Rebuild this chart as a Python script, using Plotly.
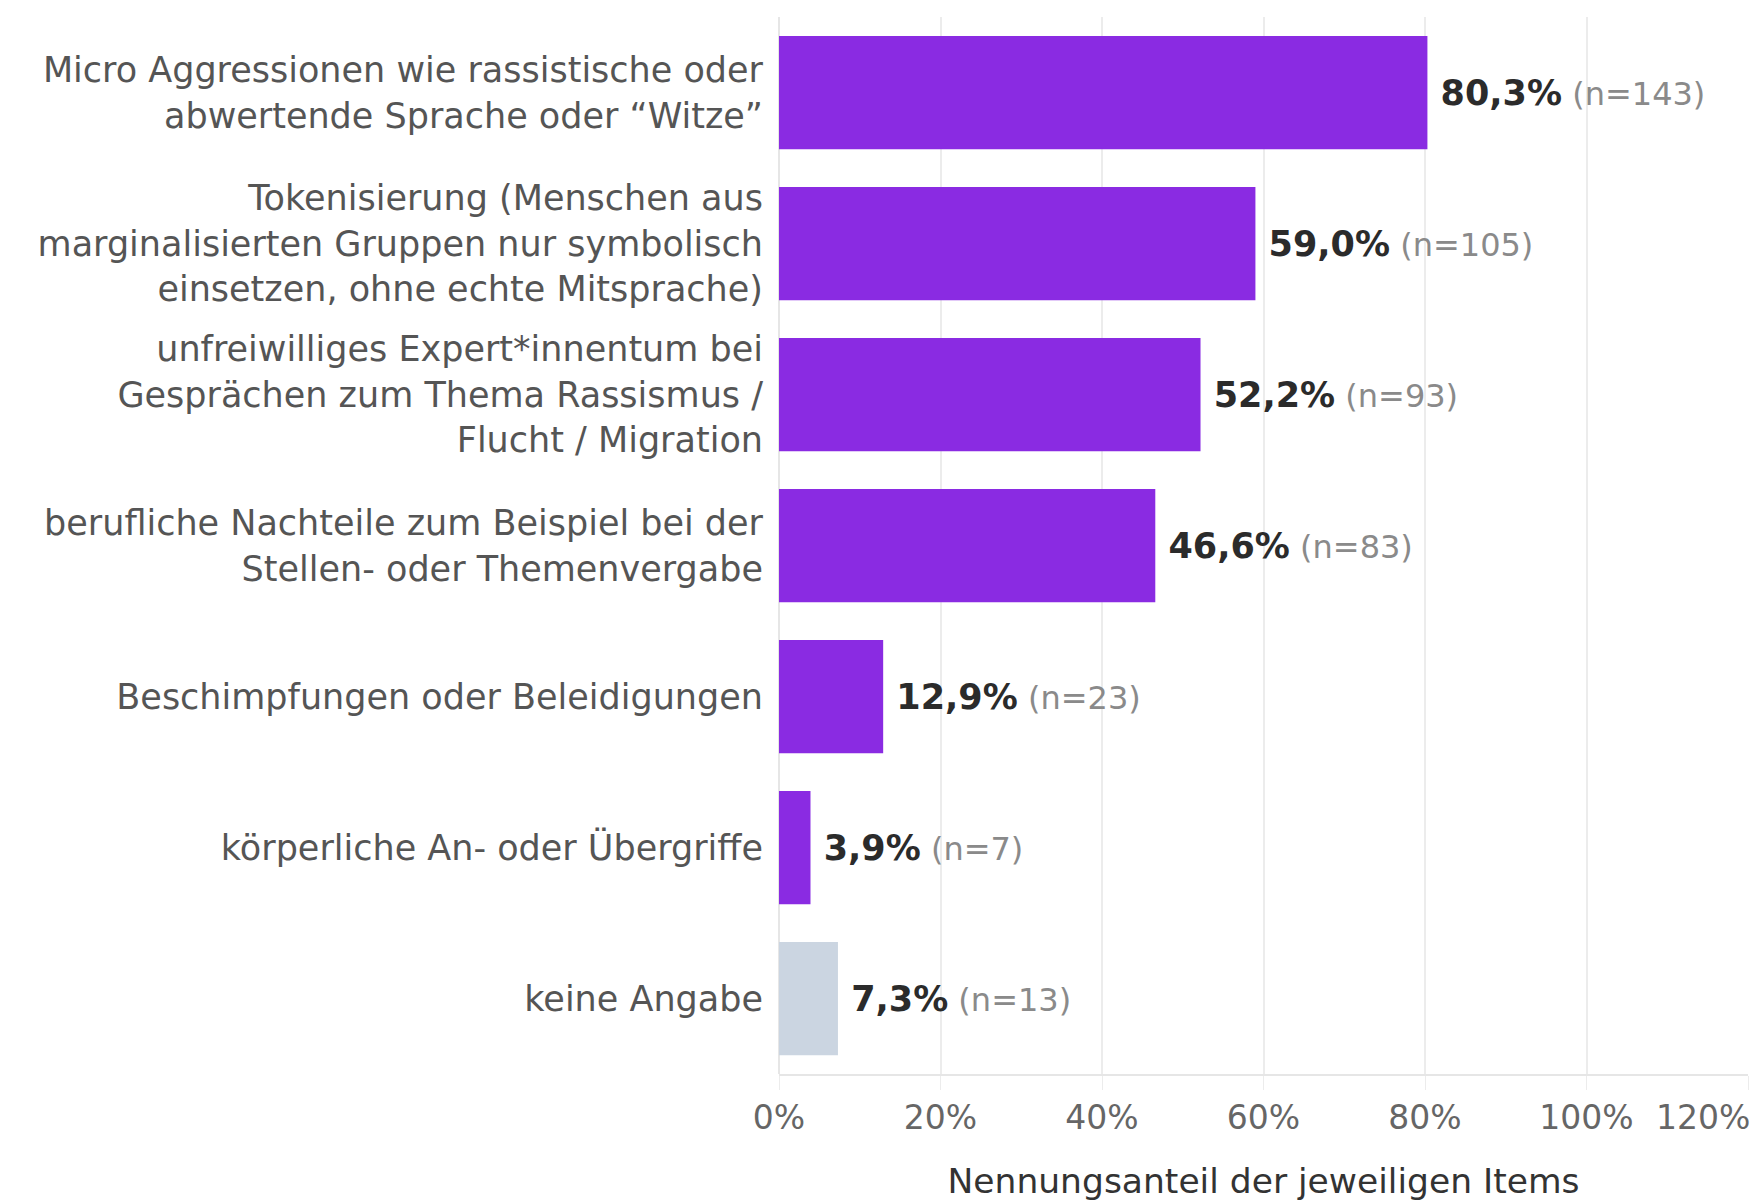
import plotly.graph_objects as go

categories = [
    "Micro Aggressionen wie rassistische oder<br>abwertende Sprache oder \u201cWitze\u201d",
    "Tokenisierung (Menschen aus<br>marginalisierten Gruppen nur symbolisch<br>einsetzen, ohne echte Mitsprache)",
    "unfreiwilliges Expert*innentum bei<br>Gespr\u00e4chen zum Thema Rassismus /<br>Flucht / Migration",
    "berufliche Nachteile zum Beispiel bei der<br>Stellen- oder Themenvergabe",
    "Beschimpfungen oder Beleidigungen",
    "k\u00f6rperliche An- oder \u00dcbergriffe",
    "keine Angabe",
]
values = [80.3, 59.0, 52.2, 46.6, 12.9, 3.9, 7.3]
counts = [143, 105, 93, 83, 23, 7, 13]
bar_colors = ["#8A2BE2"] * 6 + ["#CBD5E1"]
tick_vals = [0, 20, 40, 60, 80, 100, 120]
tick_text = ["0%", "20%", "40%", "60%", "80%", "100%", "120%"]

FONT = "'DejaVu Sans', sans-serif"

labels = [
    "\u00a0<b><span style='font-size:35px'>" + f"{v:.1f}".replace(".", ",") + "%</span></b> "
    + f"<span style='color:#8a8a8a'>(n={n})</span>"
    for v, n in zip(values, counts)
]

fig = go.Figure(
    go.Bar(
        x=values,
        y=categories,
        orientation="h",
        marker=dict(color=bar_colors, line=dict(width=0)),
        text=labels,
        textposition="outside",
        textfont=dict(family=FONT, size=32, color="#2b2b2b"),
        constraintext="none",
        cliponaxis=False,
        hoverinfo="skip",
    )
)

# page body adds an 8px offset, so the figure is 8px smaller than the window
fig.update_layout(
    width=1750,
    height=1193,
    margin=dict(l=771, r=10, t=9, b=127),
    paper_bgcolor="white",
    plot_bgcolor="white",
    bargap=0.25,
    showlegend=False,
    font=dict(family=FONT, size=32, color="#555555"),
)

# last tick label sits flush with the right edge, so it is drawn right-aligned at its tick
fig.add_annotation(
    x=tick_vals[-1], xref="x", xanchor="right", xshift=4,
    y=0, yref="paper", yanchor="middle", yshift=-43,
    text=tick_text[-1], showarrow=False,
    font=dict(family=FONT, size=33, color="#666666"),
)

fig.update_xaxes(
    automargin=False,
    range=[0, 120],
    tickvals=tick_vals,
    ticktext=tick_text[:-1] + [""],
    showgrid=True,
    gridcolor="#ececec",
    gridwidth=1.5,
    zeroline=True,
    zerolinecolor="#e6e6e6",
    zerolinewidth=1.5,
    showline=True,
    linecolor="#e6e6e6",
    linewidth=1.5,
    ticks="outside",
    ticklen=14,
    tickcolor="#ececec",
    tickfont=dict(family=FONT, size=33, color="#666666"),
    title=dict(
        text="Nennungsanteil der jeweiligen Items",
        font=dict(family=FONT, size=34.5, color="#333333"),
        standoff=36,
    ),
)

fig.update_yaxes(
    automargin=False,
    autorange="reversed",
    showgrid=False,
    showline=False,
    ticks="",
    ticklabelstandoff=15,
    tickfont=dict(family=FONT, size=35, color="#555555"),
)

fig.write_html("out.html")
